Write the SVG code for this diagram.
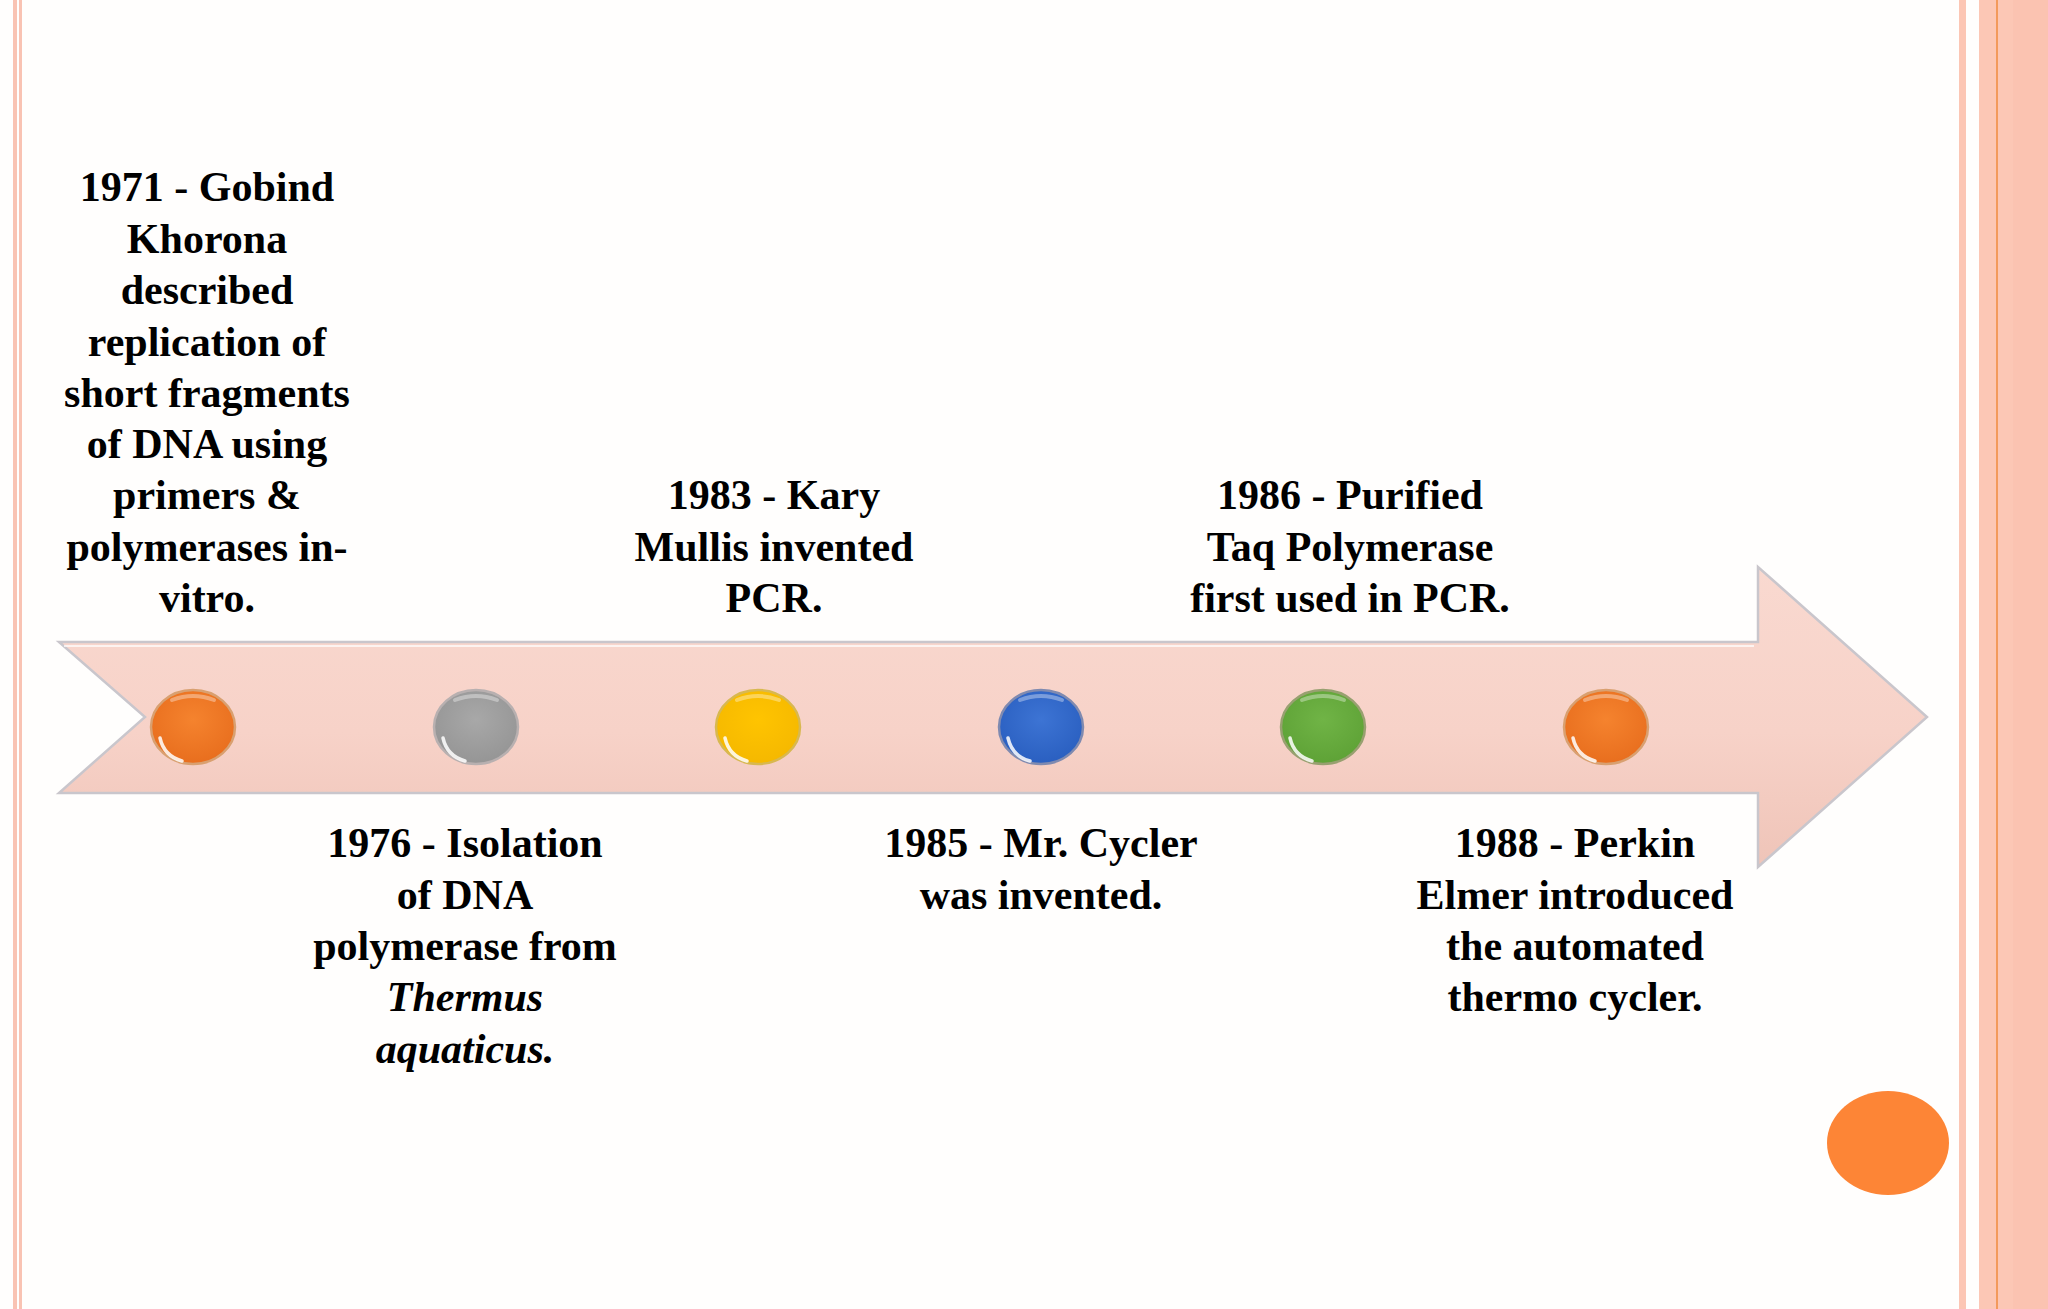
<svg xmlns="http://www.w3.org/2000/svg" width="2048" height="1309" viewBox="0 0 2048 1309">
<defs>
<style>
.t{font-family:"Liberation Serif","Times New Roman",serif;font-weight:bold;font-size:42px;fill:#000;text-anchor:middle}
.i{font-style:italic}
.dot{stroke-width:2.5}
.hl{fill:none;stroke:#fff;stroke-width:3.5;stroke-linecap:round;stroke-opacity:0.85}
.ht{fill:none;stroke:#fff;stroke-width:4;stroke-linecap:round;stroke-opacity:0.35}
</style>
<linearGradient id="arr" x1="0" y1="0" x2="0" y2="1">
<stop offset="0" stop-color="#f9d9d0"/>
<stop offset="0.55" stop-color="#f7d2c8"/>
<stop offset="1" stop-color="#efc4b8"/>
</linearGradient>
<radialGradient id="gO" cx="0.5" cy="0.4" r="0.6"><stop offset="0" stop-color="#f5832e"/><stop offset="1" stop-color="#e86e1e"/></radialGradient>
<radialGradient id="gG" cx="0.5" cy="0.4" r="0.6"><stop offset="0" stop-color="#a8a8a8"/><stop offset="1" stop-color="#959595"/></radialGradient>
<radialGradient id="gY" cx="0.5" cy="0.4" r="0.6"><stop offset="0" stop-color="#ffc400"/><stop offset="1" stop-color="#f5b800"/></radialGradient>
<radialGradient id="gB" cx="0.5" cy="0.4" r="0.6"><stop offset="0" stop-color="#3d74d4"/><stop offset="1" stop-color="#2a5fc0"/></radialGradient>
<radialGradient id="gN" cx="0.5" cy="0.4" r="0.6"><stop offset="0" stop-color="#70b446"/><stop offset="1" stop-color="#5ea236"/></radialGradient>
</defs>
<rect width="2048" height="1309" fill="#fffefd"/>
<!-- left border -->
<rect x="13" y="0" width="4" height="1309" fill="#f9c3b3"/>
<rect x="19" y="0" width="3" height="1309" fill="#f9c3b3"/>
<!-- right border -->
<rect x="1959" y="0" width="7" height="1309" fill="#fcc6b4"/>
<rect x="1979" y="0" width="69" height="1309" fill="#fcc7b5"/>
<rect x="2013" y="0" width="35" height="1309" fill="#fbc3b1"/>
<rect x="1996" y="0" width="2" height="1309" fill="#f39a5c"/>
<!-- arrow -->
<g id="arrow">
<path d="M59,642 L1758,642 L1758,567 L1927,717 L1758,867 L1758,793 L59,793 L145,717 Z" fill="url(#arr)" stroke="#c9c6cc" stroke-width="2.5" stroke-linejoin="miter"/>
<path d="M64,646 L1754,646" stroke="#ffffff" stroke-width="2" stroke-opacity="0.7"/>
</g>
<!-- dots -->
<g id="dot1971"><ellipse class="dot" cx="193" cy="727" rx="42" ry="37" fill="url(#gO)" stroke="#d9a070"/><path class="hl" d="M160,738 Q164,756 182,761"/><path class="ht" d="M172,700 Q193,692 214,700"/></g>
<g id="dot1976"><ellipse class="dot" cx="476" cy="727" rx="42" ry="37" fill="url(#gG)" stroke="#b8b0b0"/><path class="hl" d="M443,738 Q447,756 465,761"/><path class="ht" d="M455,700 Q476,692 497,700"/></g>
<g id="dot1983"><ellipse class="dot" cx="758" cy="727" rx="42" ry="37" fill="url(#gY)" stroke="#d8b850"/><path class="hl" d="M725,738 Q729,756 747,761"/><path class="ht" d="M737,700 Q758,692 779,700"/></g>
<g id="dot1985"><ellipse class="dot" cx="1041" cy="727" rx="42" ry="37" fill="url(#gB)" stroke="#7f8ab0"/><path class="hl" d="M1008,738 Q1012,756 1030,761"/><path class="ht" d="M1020,700 Q1041,692 1062,700"/></g>
<g id="dot1986"><ellipse class="dot" cx="1323" cy="727" rx="42" ry="37" fill="url(#gN)" stroke="#98a070"/><path class="hl" d="M1290,738 Q1294,756 1312,761"/><path class="ht" d="M1302,700 Q1323,692 1344,700"/></g>
<g id="dot1988"><ellipse class="dot" cx="1606" cy="727" rx="42" ry="37" fill="url(#gO)" stroke="#d9a070"/><path class="hl" d="M1573,738 Q1577,756 1595,761"/><path class="ht" d="M1585,700 Q1606,692 1627,700"/></g>
<!-- decorative circle -->
<ellipse cx="1888" cy="1143" rx="61" ry="52" fill="#fd8536"/>
<!-- texts -->
<g id="text1971">
<text class="t" x="207" y="201">1971 - Gobind</text>
<text class="t" x="207" y="253">Khorona</text>
<text class="t" x="207" y="304">described</text>
<text class="t" x="207" y="356">replication of</text>
<text class="t" x="207" y="407">short fragments</text>
<text class="t" x="207" y="458">of DNA using</text>
<text class="t" x="207" y="509">primers &amp;</text>
<text class="t" x="207" y="561">polymerases in-</text>
<text class="t" x="207" y="612">vitro.</text>
</g>
<g id="text1976">
<text class="t" x="465" y="857">1976 - Isolation</text>
<text class="t" x="465" y="909">of DNA</text>
<text class="t" x="465" y="960">polymerase from</text>
<text class="t i" x="465" y="1011">Thermus</text>
<text class="t i" x="465" y="1063">aquaticus.</text>
</g>
<g id="text1983">
<text class="t" x="774" y="509">1983 - Kary</text>
<text class="t" x="774" y="561">Mullis invented</text>
<text class="t" x="774" y="612">PCR.</text>
</g>
<g id="text1985">
<text class="t" x="1041" y="857">1985 - Mr. Cycler</text>
<text class="t" x="1041" y="909">was invented.</text>
</g>
<g id="text1986">
<text class="t" x="1350" y="509">1986 - Purified</text>
<text class="t" x="1350" y="561">Taq Polymerase</text>
<text class="t" x="1350" y="612">first used in PCR.</text>
</g>
<g id="text1988">
<text class="t" x="1575" y="857">1988 - Perkin</text>
<text class="t" x="1575" y="909">Elmer introduced</text>
<text class="t" x="1575" y="960">the automated</text>
<text class="t" x="1575" y="1011">thermo cycler.</text>
</g>
</svg>
